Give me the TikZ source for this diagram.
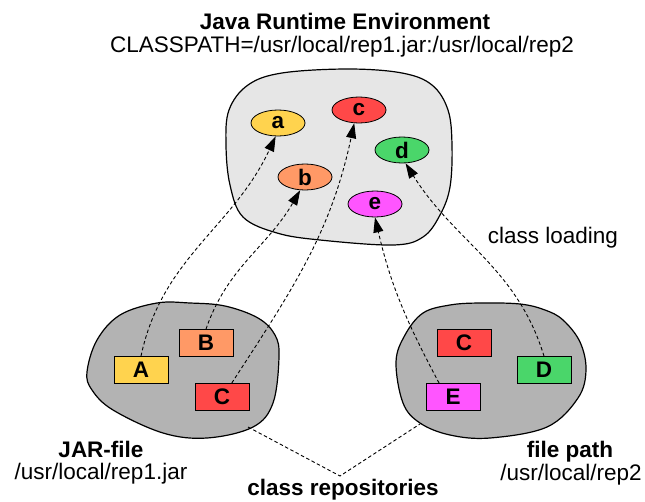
\documentclass[tikz,border=0pt]{standalone}
\usepackage{fontspec}
\setmainfont{Liberation Sans}
\usetikzlibrary{shapes.geometric,arrows.meta}
\definecolor{cyel}{HTML}{FFD34E}
\definecolor{csal}{HTML}{FF9966}
\definecolor{cred}{HTML}{FF4848}
\definecolor{cgrn}{HTML}{4AD66A}
\definecolor{cmag}{HTML}{FF55FF}
\definecolor{jregray}{HTML}{E6E6E6}
\definecolor{repgray}{HTML}{B3B3B3}
\begin{document}
\begin{tikzpicture}[x=1pt,y=1pt,
  txt/.style={font=\fontsize{22.5}{26}\selectfont},
  boldtxt/.style={font=\fontsize{22.5}{26}\selectfont\bfseries},
  cls/.style={ellipse,draw,line width=0.8pt,minimum width=54pt,minimum height=26pt,inner sep=0pt,font=\fontsize{22.5}{26}\selectfont\bfseries},
  repbox/.style={rectangle,draw,line width=0.8pt,minimum width=54pt,minimum height=27pt,inner sep=0pt,font=\fontsize{22.5}{26}\selectfont\bfseries},
  blob/.style={draw,line width=1.2pt},
  conn/.style={line width=0.9pt,dash pattern=on 3.5pt off 2.5pt},
  load/.style={conn,-{Triangle[length=15pt,width=10pt]}}]
\useasboundingbox (0,0) rectangle (645,-501);
% blobs
\draw[blob,fill=jregray] plot[smooth cycle,tension=0.6] coordinates {
 (226,-145) (229,-110) (248,-85) (282,-73) (348,-69) (402,-73) (432,-85) (448,-110)
 (452,-145) (450,-187) (440,-215) (423,-237) (393,-245) (320,-240) (277,-233) (243,-217) (230,-185)};
\draw[blob,fill=repgray] plot[smooth cycle,tension=0.6] coordinates {
 (87,-372) (97,-340) (120,-315) (157,-303) (190,-303) (225,-306) (258,-318) (275,-335)
 (279,-357) (273,-403) (253,-427) (207,-438) (163,-433) (113,-410) (92,-390)};
\draw[blob,fill=repgray] plot[smooth cycle,tension=0.6] coordinates {
 (396,-362) (405,-335) (423,-313) (450,-305) (480,-303) (520,-304) (545,-310) (563,-320)
 (580,-342) (586,-370) (578,-398) (547,-427) (490,-438) (450,-435) (420,-423) (403,-403)};
% classes in JRE
\node[cls,fill=cyel] (a) at (278,-123) {a};
\node[cls,fill=cred] (c) at (359,-110) {c};
\node[cls,fill=cgrn] (d) at (402,-150) {d};
\node[cls,fill=csal] (b) at (305,-177) {b};
\node[cls,fill=cmag] (e) at (375,-204) {e};
% classes in repositories
\node[repbox,fill=cyel] (A) at (141,-370) {A};
\node[repbox,fill=csal] (B) at (206,-343) {B};
\node[repbox,fill=cred] (C) at (222,-397) {C};
\node[repbox,fill=cred] (C2) at (464,-343) {C};
\node[repbox,fill=cgrn] (D) at (544,-370) {D};
\node[repbox,fill=cmag] (E) at (453,-397) {E};
% class loading
\draw[load] (A.north) to[out=78,in=-115] (a.-100);
\draw[load] (B.north) to[out=71,in=-120] (b.-110);
\draw[load] (C.55) to[out=57,in=-102] (c.-110);
\draw[load] (E.135) to[out=118,in=-77] (e.south);
\draw[load] (D.north) to[out=107,in=-58] (d.-75);
% texts
\node[boldtxt,anchor=base] (jre) at (345,-29) {Java Runtime Environment};
\node[txt,anchor=base] (cp) at (342,-52) {CLASSPATH=/usr/local/rep1.jar:/usr/local/rep2};
\node[txt,anchor=base] (cl) at (553,-243) {class loading};
\node[boldtxt,anchor=base] (jar) at (101,-457) {JAR-file};
\node[txt,anchor=base] (jarp) at (101,-479) {/usr/local/rep1.jar};
\node[boldtxt,anchor=base] (fp) at (570,-457) {file path};
\node[txt,anchor=base] (fpp) at (571,-480) {/usr/local/rep2};
\node[boldtxt,anchor=base] (repos) at (343,-495) {class repositories};
% class repositories pointer
\coordinate (jarpt) at (248,-427);
\coordinate (fppt) at (420,-424);
\coordinate (reppt) at (340,-476);
\draw[conn] (jarpt) -- (reppt) -- (fppt);
\end{tikzpicture}
\end{document}
